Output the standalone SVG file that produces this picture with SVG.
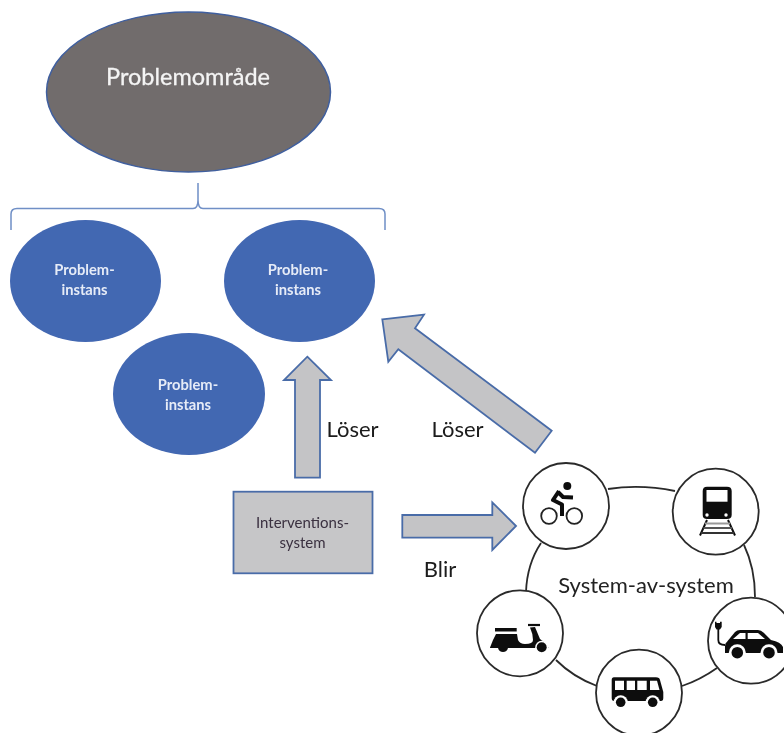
<svg xmlns="http://www.w3.org/2000/svg" width="784" height="733" viewBox="0 0 784 733">
<defs>
<filter id="soft" x="-5%" y="-5%" width="110%" height="110%"><feGaussianBlur stdDeviation="0.5"/></filter>
</defs>
<style>
text{font-family:"Lato","Open Sans","Liberation Sans",sans-serif;text-anchor:middle}
.inst{fill:#4367b2}
.instt{fill:#e6ecf7;font-size:14.700px;font-weight:700}
.arrow{fill:#c4c4c6;stroke:#4a6ca8;stroke-width:1.800;stroke-linejoin:miter}
.lbl{fill:#1a1a1a;font-size:22px}
.ring{fill:#fff;stroke:#2a2a2a;stroke-width:1.800}
.link{fill:none;stroke:#2a2a2a;stroke-width:1.800}
.ico{fill:#111}
.icow{fill:#fff}
.icol{fill:none;stroke:#222;stroke-width:1.800}
</style>
<rect width="784" height="733" fill="#fff"/>
<g filter="url(#soft)">
<g id="connectors">
<path d="M11 230 V214 Q11 208.500 17 208.500 H193 Q198 208.500 198 200 V183 V200 Q198 208.500 203 208.500 H379 Q385 208.500 385 214 V230" fill="none" stroke="#6f8fc6" stroke-width="1.500"/>
<polygon class="arrow" points="307.300,356.700 331,380 320,380 320,477.700 295,477.700 295,380 284,380"/>
<polygon class="arrow" points="382.300,319.300 424,314.700 415,328.300 551.700,430.700 535,452.700 398.300,349.300 388.300,361.700"/>
<polygon class="arrow" points="516,526 492.300,502.300 492.300,515 402.300,515 402.300,537.700 492.300,537.700 492.300,550"/>
<path class="link" d="M608 489 Q641 484 675 491"/>
<path class="link" d="M541 543 Q527 564 526 592"/>
<path class="link" d="M744 545 Q755 568 755 597"/>
<path class="link" d="M556 660 Q573 677 597 686"/>
<path class="link" d="M682 686 Q700 680 717 668"/>
</g>
<g id="problemomrade">
<ellipse cx="188.500" cy="92" rx="142" ry="80" fill="#716c6c" stroke="#3f5f9f" stroke-width="1.500"/>
<text x="188" y="84.500" fill="#f4f4f4" stroke="#f4f4f4" stroke-width="0.300" font-size="23.500">Problemområde</text>
</g>
<g id="instans-left">
<ellipse class="inst" cx="85.500" cy="281" rx="75.500" ry="61"/>
<text class="instt" x="84.500" y="275">Problem-</text><text class="instt" x="84.500" y="295">instans</text>
</g>
<g id="instans-right">
<ellipse class="inst" cx="299.500" cy="281" rx="75.500" ry="61"/>
<text class="instt" x="298" y="275">Problem-</text><text class="instt" x="298" y="295">instans</text>
</g>
<g id="instans-bottom">
<ellipse class="inst" cx="189" cy="394" rx="76" ry="61"/>
<text class="instt" x="188" y="390">Problem-</text><text class="instt" x="188" y="410">instans</text>
</g>
<g id="interventionssystem">
<rect x="233.500" y="491.700" width="139" height="81.600" fill="#c6c6c8" stroke="#4a6ca8" stroke-width="1.800"/>
<text x="302.500" y="528" fill="#3a3040" font-size="15">Interventions-</text>
<text x="302.500" y="548" fill="#3a3040" font-size="15">system</text>
</g>
<g id="labels">
<text class="lbl" x="352.500" y="437">Löser</text>
<text class="lbl" x="457.500" y="437">Löser</text>
<text class="lbl" x="440" y="577">Blir</text>
<text x="646" y="593" fill="#222" font-size="22">System-av-system</text>
</g>
<g id="bike">
<circle class="ring" cx="566" cy="506" r="43"/>
<circle class="icol" cx="549" cy="516" r="7.800"/>
<circle class="icol" cx="574.300" cy="516" r="7.800"/>
<circle class="ico" cx="567.300" cy="486" r="4"/>
<path d="M559 491 L553 500 L562 504.500 L562 516 M558 492 L563 497 L573 497.500" fill="none" stroke="#111" stroke-width="4" stroke-linejoin="round"/>
</g>
<g id="train">
<circle class="ring" cx="715.700" cy="511.700" r="43"/>
<path class="ico" d="M707 486.700 H727 Q731.700 486.700 731.700 491 V515 Q731.700 519 727 519 H707 Q702.700 519 702.700 515 V491 Q702.700 486.700 707 486.700 Z"/>
<rect class="icow" x="706.500" y="490" width="21" height="11.700"/>
<circle class="icow" cx="707" cy="515" r="1.700"/>
<circle class="icow" cx="726" cy="515" r="1.700"/>
<path d="M707 520 L700 535.500 M728 520 L735 535.500" stroke="#111" stroke-width="2" fill="none"/>
<path d="M705 523.500 H730" stroke="#999" stroke-width="2"/>
<path d="M703.500 528 H732" stroke="#555" stroke-width="2"/>
<path d="M701 533 H734" stroke="#333" stroke-width="2"/>
</g>
<g id="car">
<circle class="ring" cx="751" cy="640.700" r="43"/>
<path class="ico" d="M725 653 V646 Q725 643 727 641.700 L735 632 Q737 630 740 630 H758 Q761 630 764 633 L771 640 Q781 642 783 647 V653 Z"/>
<path class="icow" d="M733 639 L740 633 H745.500 V639 Z M747.700 633 H758 L765 639 H747.700 Z"/>
<circle class="icow" cx="737.300" cy="652.700" r="8.500"/><circle class="ico" cx="737.300" cy="652.700" r="5.800"/>
<circle class="icow" cx="769" cy="652.700" r="8.500"/><circle class="ico" cx="769" cy="652.700" r="5.800"/>
<path d="M718.300 628 V640 Q718.300 645 725 645" fill="none" stroke="#111" stroke-width="1.800"/>
<path class="ico" d="M715 621.700 H716.500 V623 H720 V621.700 H721.700 V627 L720 629.500 H716.500 L715 627 Z"/>
</g>
<g id="bus">
<circle class="ring" cx="639" cy="692.700" r="43"/>
<path class="ico" d="M614 677.300 Q611.700 677.300 611.700 680 V698 Q611.700 701 614 701 H661 Q663.300 701 663.300 698 V692 L660 680 Q659.500 677.300 656 677.300 Z"/>
<path class="icow" d="M615 680.700 H624 V690 H615 Z M626.700 680.700 H635 V690 H626.700 Z M637.300 680.700 H646.700 V690 H637.300 Z M650 680.700 H657 L659.500 690 H650 Z"/>
<circle class="icow" cx="620.700" cy="702.300" r="7"/><circle class="ico" cx="620.700" cy="702.300" r="4.800"/>
<circle class="icow" cx="652.700" cy="702.300" r="7"/><circle class="ico" cx="652.700" cy="702.300" r="4.800"/>
</g>
<g id="scooter">
<circle class="ring" cx="520" cy="633.300" r="43"/>
<rect class="ico" x="495" y="628" width="21.700" height="3.500"/>
<path class="ico" d="M490 647.500 L493 640 L496 634 H517 L518 640 Q520 644 525 644 Q533 644 533 640 Q533 634 530 627.500 L535 627 L540 639 L546 643.500 L548.500 648 H490 Z"/>
<path d="M528 625 H540" stroke="#111" stroke-width="2.200"/>
<circle class="icow" cx="541.700" cy="647.300" r="6.500"/>
<circle class="ico" cx="541.700" cy="647.300" r="5"/>
<path class="ico" d="M498 648 H508 Q507 652 503 652 Q499 652 498 648 Z"/>
</g>
</g>
</svg>
